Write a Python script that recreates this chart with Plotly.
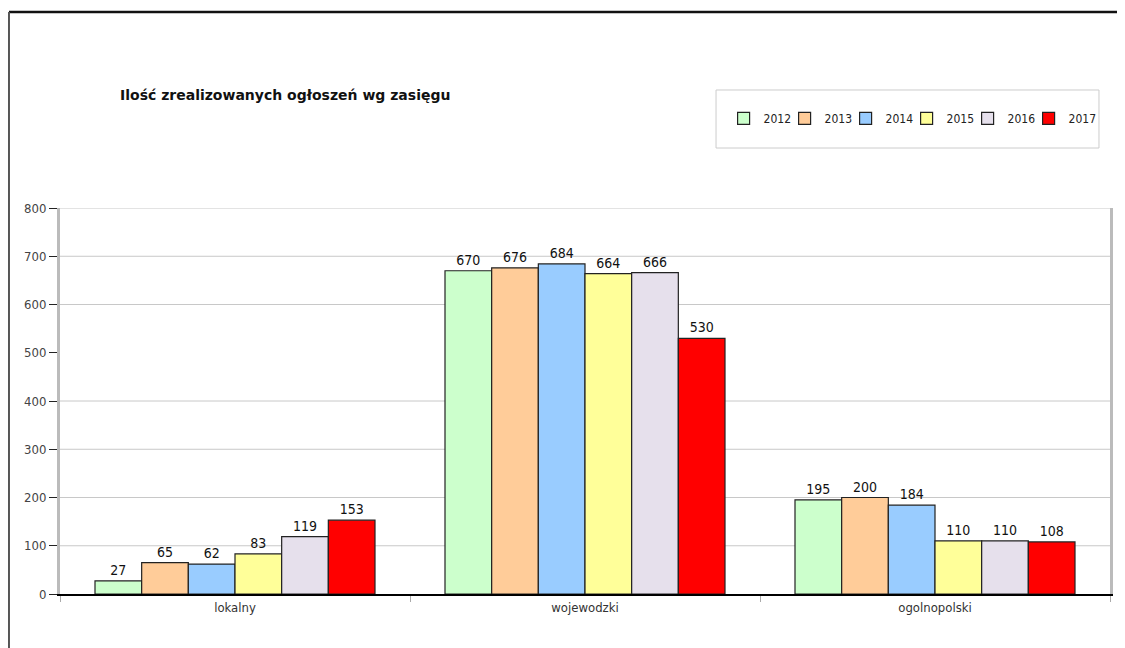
import plotly.graph_objects as go

categories = ["lokalny", "wojewodzki", "ogolnopolski"]
years = ["2012", "2013", "2014", "2015", "2016", "2017"]
values = {
    "2012": [27, 670, 195],
    "2013": [65, 676, 200],
    "2014": [62, 684, 184],
    "2015": [83, 664, 110],
    "2016": [119, 666, 110],
    "2017": [153, 530, 108],
}
colors = ["#CCFFCC", "#FFCC99", "#99CCFF", "#FFFF99", "#E6E0EC", "#FF0000"]
y_ticks = [0, 100, 200, 300, 400, 500, 600, 700, 800]
grid_values = [100, 200, 300, 400, 600, 700, 800]
title = "Ilość zrealizowanych ogłoszeń wg zasięgu"

FONT = "Liberation Sans Narrow, DejaVu Sans Condensed, Liberation Sans, Arial"

fig = go.Figure()
for yr, col in zip(years, colors):
    fig.add_trace(go.Bar(
        name=yr, x=categories, y=values[yr],
        marker=dict(color=col, line=dict(color="#222222", width=1.2)),
        text=values[yr], textposition="outside", cliponaxis=False,
        textfont=dict(family=FONT, size=14, color="#111111"),
    ))
# invisible spacer entry so the last legend label is not clipped
fig.add_trace(go.Scatter(x=[None], y=[None], name=" ", mode="markers",
                         marker=dict(color="rgba(0,0,0,0)", size=1, line=dict(width=0)),
                         hoverinfo="skip", showlegend=True))

shapes = []
for g in grid_values:
    shapes.append(dict(type="line", xref="paper", yref="y", x0=0, x1=1, y0=g, y1=g,
                       line=dict(color="#C8C8C8", width=1), layer="below"))
# outer frame lines
shapes.append(dict(type="line", xref="paper", yref="paper", x0=-0.0486, x1=1.02, y0=1.5078, y1=1.5078,
                   line=dict(color="#111111", width=2.5)))
shapes.append(dict(type="line", xref="paper", yref="paper", x0=-0.0486, x1=-0.0486, y0=1.5078, y1=-0.15,
                   line=dict(color="#555555", width=2)))
# legend box
shapes.append(dict(type="rect", xref="paper", yref="paper", x0=0.6248, x1=0.9895, y0=1.3057, y1=1.1554,
                   line=dict(color="#CCCCCC", width=1), fillcolor="rgba(0,0,0,0)"))

fig.update_layout(
    width=1117, height=640,
    margin=dict(l=52, r=15, t=200, b=54, autoexpand=False),
    paper_bgcolor="white", plot_bgcolor="white",
    barmode="group", bargap=0.2, bargroupgap=0,
    showlegend=True,
    legend=dict(orientation="h", x=0.632, y=1.27, xanchor="left", yanchor="top",
                font=dict(family=FONT, size=12, color="#222222"),
                bgcolor="rgba(0,0,0,0)", borderwidth=0,
                entrywidth=16, entrywidthmode="pixels", itemwidth=30,
                traceorder="normal"),
    annotations=[dict(text="<b>" + title + "</b>", xref="paper", yref="paper",
                      x=(118 - 60) / 1050, y=(594 - 95) / 386, xanchor="left", yanchor="middle",
                      showarrow=False, font=dict(family="DejaVu Sans", size=14, color="#111111"))],
    shapes=shapes,
    xaxis=dict(showgrid=False, showline=True, linecolor="#000000", linewidth=2,
               ticks="outside", tickson="boundaries", ticklen=6, tickcolor="#AAAAAA",
               tickfont=dict(family=FONT, size=13, color="#333333")),
    yaxis=dict(range=[0, 800], tickvals=y_ticks, showgrid=False, zeroline=False,
               showline=True, linecolor="#BBBBBB", linewidth=3, mirror=True,
               ticks="outside", ticklen=8, tickcolor="#222222",
               tickfont=dict(family=FONT, size=13, color="#444444")),
)

fig.write_html("out.html")
